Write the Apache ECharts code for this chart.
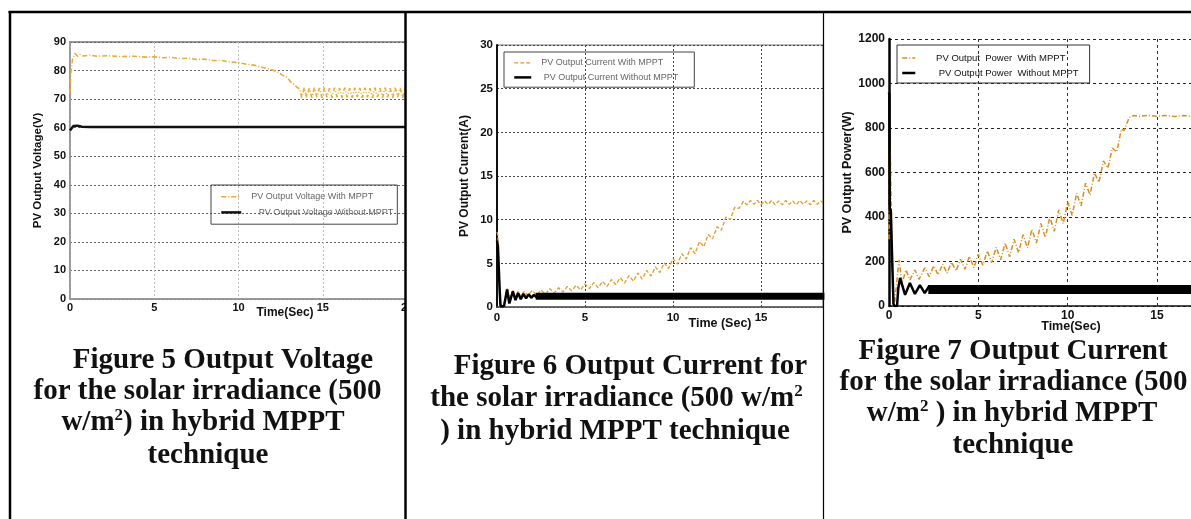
<!DOCTYPE html>
<html><head><meta charset="utf-8">
<script src="https://cdn.jsdelivr.net/npm/echarts@6/dist/echarts.min.js"></script>
<style>html,body{margin:0;padding:0;background:#fff}#c{width:1191px;height:519px}</style>
</head><body><div id="c"></div>
<script>
// ---------- data (time in s, value) ----------
const voltWith = [[0,72],[0.05,79],[0.15,84],[0.3,86],[0.45,85],[0.6,85.6],[0.8,85.1],[1.2,85.4],[1.6,85],[2.2,85.2],[3,84.9],[3.8,85],[4.5,84.7],[5,84.8],[5.5,84.5],[6,84.6],[6.5,84.2],[7,84.3],[7.5,83.9],[8,84],[8.5,83.5],[9,83.5],[9.5,83],[10,82.8],[10.5,82.2],[11,81.8],[11.5,81],[12,80.2],[12.3,79.6],[12.6,78.4],[12.9,77.5],[13.1,76],[13.3,75.2],[13.5,74],[13.65,73.5],[13.75,70.5],
 [13.9,74],[14.05,70.6],[14.2,73.8],[14.35,70.5],[14.5,74],[14.65,70.7],[14.8,73.9],[14.95,70.5],[15.1,74],[15.25,70.6],[15.4,73.8],[15.55,70.5],[15.7,74],[15.85,70.7],[16,73.9],[16.15,70.5],[16.3,74],[16.45,70.6],[16.6,73.8],[16.75,70.5],[16.9,74],[17.05,70.7],[17.2,73.9],[17.35,70.5],[17.5,74],[17.65,70.6],[17.8,73.8],[17.95,70.5],[18.1,74],[18.25,70.7],[18.4,73.9],[18.55,70.5],[18.7,74],[18.85,70.6],[19,73.8],[19.15,70.5],[19.3,74],[19.45,70.7],[19.6,73.9],[19.75,70.5],[19.9,74],[20,71]];
const voltWithout = [[0,59],[0.1,59.6],[0.2,60.6],[0.3,61],[0.45,60.7],[0.7,60.3],[1.2,60.2],[5,60.2],[10,60.2],[15,60.2],[20,60.2]];

const currentWith = [[0,8.6],[0.05,8.2],[0.12,4],[0.2,0.3],[0.35,0.1],[0.5,1.3],[0.6,2.2],[0.75,0.9],[0.9,1.9],[1.05,1.1],[1.2,1.8],[1.35,1.2],[1.55,1.8],[1.75,1.3],[2.0,1.9],
 [2.25,1.35],[2.5,1.95],[2.75,1.45],[3.0,2.1],[3.25,1.6],[3.5,2.2],[3.75,1.7],[4.0,2.35],[4.25,1.85],[4.5,2.5],[4.75,1.95],[5.0,2.65],[5.25,2.1],[5.5,2.8],[5.75,2.2],[6.0,2.95],[6.25,2.35],[6.5,3.15],[6.75,2.55],[7.0,3.35],[7.25,2.75],[7.5,3.6],[7.75,2.95],[8.0,3.9],[8.25,3.2],[8.5,4.2],[8.75,3.55],[9.0,4.6],[9.25,3.95],[9.5,5.05],[9.75,4.4],[10.0,5.55],[10.25,4.9],[10.5,6.1],[10.75,5.5],[11.0,6.8],[11.25,6.1],[11.5,7.5],[11.75,6.9],[12.0,8.3],[12.25,7.8],[12.5,9.2],[12.75,8.8],[13.0,10.3],[13.25,10.0],[13.5,11.4],[13.75,11.3],[14.0,12.1],
 [14.2,11.7],[14.4,12.2],[14.6,11.75],[14.8,12.2],[15.0,11.7],[15.2,12.15],[15.4,11.75],[15.6,12.2],[15.8,11.7],[16.0,12.15],[16.2,11.7],[16.4,12.2],[16.6,11.75],[16.8,12.15],[17.0,11.7],[17.2,12.2],[17.4,11.75],[17.6,12.15],[17.8,11.7],[18.0,12.2],[18.2,11.75],[18.4,12.15],[18.6,11.7]];
const currentWithout = [[0,7.6],[0.05,7.0],[0.15,2],[0.2,0.1],[0.4,0.1],[0.5,1.2],[0.57,2.0],[0.7,0.4],[0.9,1.8],[1.05,0.8],[1.2,1.6],[1.35,0.9],[1.5,1.5],[1.65,1.0],[1.8,1.45],[1.95,1.05],[2.1,1.4],[2.25,1.1],[2.4,1.3]];
const currentWithoutBand = [[2.2,1.22],[18.6,1.22]];

const powerWith = [[0,300],[0.03,700],[0.08,680],[0.15,330],[0.25,40],[0.32,20],[0.45,120],[0.56,207],[0.73,103],[0.95,162],[1.17,117],[1.45,162],[1.68,120],
 [2.0,171],[2.25,132],[2.5,180],[2.75,140],[3.0,188],[3.25,148],[3.5,197],[3.75,158],[4.0,210],[4.25,165],[4.5,223],[4.75,172],[5.0,233],[5.25,183],[5.5,248],[5.75,195],[6.0,264],[6.25,208],[6.5,283],[6.75,221],[7.0,300],[7.25,240],[7.5,320],[7.75,261],[8.0,345],[8.25,283],[8.5,371],[8.75,308],[9.0,400],[9.25,336],[9.5,432],[9.75,370],[10.0,468],[10.25,407],[10.5,507],[10.75,450],[11.0,552],[11.25,499],[11.5,598],[11.75,556],[12.0,652],[12.25,620],[12.5,710],[12.75,692],[13.0,795],[13.15,788],[13.45,848],[13.7,856],
 [14,852],[14.5,857],[15,853],[15.5,856],[16,852],[16.5,856],[16.9,853]];
const powerWithout = [[0,960],[0.02,950],[0.04,440],[0.1,430],[0.18,200],[0.25,10],[0.3,0],[0.45,0],[0.52,80],[0.62,126],[0.9,50],[1.17,103],[1.45,54],[1.73,94],[2.0,58],[2.25,90],[2.5,62]];
const powerWithoutBand = [[2.2,74],[16.9,74]];

const seriesNames = {
  vWith: 'PV Output Voltage With MPPT', vWithout: 'PV Output Voltage Without MPPT',
  cWith: 'PV Output Current With MPPT', cWithout: 'PV Output Current Without MPPT',
  pWith: 'PV Output  Power  With MPPT', pWithout: 'PV Output Power  Without MPPT'
};
const yNames = ['PV Output Voltage(V)', 'PV Output Current(A)', 'PV Output Power(W)'];
const xNames = ['Time(Sec)', 'Time (Sec)', 'Time(Sec)'];
const caption5 = ['{b|Figure 5 Output Voltage}', '{b|for the solar irradiance (500}', '{b|w/m}{s|2}{b|) in hybrid MPPT}', '{b|technique}'];
const caption6 = ['{b|Figure 6 Output Current for}', '{b|the solar irradiance (500 w/m}{s|2}', '{b|) in hybrid MPPT technique}'];
const caption7 = ['{b|Figure 7 Output Current}', '{b|for the solar irradiance (500}', '{b|w/m}{s|2}{b| ) in hybrid MPPT}', '{b|technique}'];

// ---------- styling ----------
const SANS = '"Liberation Sans", Arial, sans-serif';
const SERIF = '"Liberation Serif", "Times New Roman", serif';
const chart = echarts.init(document.getElementById('c'), null, {renderer: 'canvas'});

function xAx(gi, max, lineColor, split, margin, fs) {
  return {gridIndex: gi, type: 'value', min: 0, max: max, interval: 5,
    axisLine: {lineStyle: {color: lineColor, width: 1.5}}, axisTick: {show: false},
    axisLabel: {color: '#111', fontWeight: 'bold', fontSize: fs, fontFamily: SANS, margin: margin, showMaxLabel: gi === 0,
      formatter: function (v) { return String(v); }},
    splitLine: {show: true, lineStyle: split}};
}
function yAx(gi, max, interval, lineColor, lw, split, name, gap, fs, nfs) {
  return {gridIndex: gi, type: 'value', min: 0, max: max, interval: interval,
    axisLine: {show: true, lineStyle: {color: lineColor, width: lw}}, axisTick: {show: false},
    axisLabel: {color: '#111', fontWeight: 'bold', fontSize: fs, fontFamily: SANS, margin: 4,
      formatter: function (v) { return String(v); }},
    splitLine: {show: true, lineStyle: split},
    name: name, nameLocation: 'middle', nameGap: gap,
    nameTextStyle: {fontWeight: 'bold', fontSize: nfs, fontFamily: SANS, color: '#111'}};
}
function line(name, xi, data, color, width, type, z) {
  return {name: name, type: 'line', xAxisIndex: xi, yAxisIndex: xi, data: data, symbol: 'none',
    showSymbol: false, animation: false, z: z || 2, itemStyle: {color: color},
    lineStyle: {color: color, width: width, type: type || 'solid'}};
}
function legendPad(n) { return (n.indexOf('Without') >= 0 ? '     ' : '  ') + n; }
const hiddenSymbol = {opacity: 0, borderWidth: 0};

const graphics = [];
function captionBlock(lines, xs, ys) {
  lines.forEach(function (t, i) {
    graphics.push({type: 'text', z: 120, style: {text: t, x: xs[i], y: ys[i], align: 'center', verticalAlign: 'middle',
      rich: {
        b: {fontSize: 29, fontWeight: 'bold', fontFamily: SERIF, fill: '#111', lineHeight: 32},
        s: {fontSize: 17, fontWeight: 'bold', fontFamily: SERIF, fill: '#111', verticalAlign: 'top'}
      }}});
  });
}
captionBlock(caption5, [223, 207.5, 203, 208], [361, 392, 423, 456]);
captionBlock(caption6, [630.5, 616.5, 615], [367, 399, 432]);
captionBlock(caption7, [1013, 1013.5, 1012, 1013], [352, 383, 414, 446]);
[[xNames[0], 285, 313, 12], [xNames[1], 720, 324, 12.5], [xNames[2], 1071, 327, 12.5]].forEach(function (a) {
  graphics.push({type: 'text', z: 90, style: {text: a[0], x: a[1], y: a[2], align: 'center', verticalAlign: 'middle',
    fontSize: a[3], fontWeight: 'bold', fontFamily: SANS, fill: '#111'}});
});
// clip chart 1 at its cell edge, then table rules
graphics.push({type: 'rect', z: 100, shape: {x: 406, y: 20, width: 50, height: 310}, style: {fill: '#fff'}});
graphics.push({type: 'line', z: 110, shape: {x1: 8.5, y1: 12, x2: 1191, y2: 12}, style: {stroke: '#000', lineWidth: 2.5}});
graphics.push({type: 'line', z: 110, shape: {x1: 10, y1: 11, x2: 10, y2: 519}, style: {stroke: '#000', lineWidth: 2.5}});
graphics.push({type: 'line', z: 110, shape: {x1: 405.5, y1: 11, x2: 405.5, y2: 519}, style: {stroke: '#000', lineWidth: 2.5}});
graphics.push({type: 'line', z: 110, shape: {x1: 823.5, y1: 11, x2: 823.5, y2: 519}, style: {stroke: '#000', lineWidth: 1.2}});

const option = {
  animation: false,
  backgroundColor: '#fff',
  grid: [
    {left: 70, top: 42, width: 337, height: 257, show: true, borderColor: '#9a9a9a', borderWidth: 2},
    {left: 497, top: 45, width: 326, height: 262, show: true, borderColor: '#777', borderWidth: 1},
    {left: 889, top: 39, width: 302, height: 267, show: false}
  ],
  xAxis: [
    xAx(0, 20, '#9a9a9a', {color: '#bdbdbd', type: [2, 2], width: 1}, 3, 11),
    xAx(1, 18.52, '#555', {color: '#444', type: [2, 2], width: 1}, 5, 11.5),
    xAx(2, 16.9, '#111', {color: '#333', type: [3, 3], width: 1}, 4, 12)
  ],
  yAxis: [
    yAx(0, 90, 10, '#9a9a9a', 1.5, {color: '#666', type: [2, 2], width: 1}, yNames[0], 26, 11, 11.5),
    yAx(1, 30, 5, '#111', 2, {color: '#444', type: [2, 2], width: 1}, yNames[1], 26, 11.5, 12),
    yAx(2, 1200, 200, '#000', 2.5, {color: '#222', type: [3, 3], width: 1}, yNames[2], 35, 12, 12.5)
  ],
  legend: [
    {data: [seriesNames.vWith, seriesNames.vWithout], orient: 'vertical', left: 211, top: 185,
     padding: [7, 4, 7, 9], itemGap: 6, itemWidth: 20, itemHeight: 12, borderColor: '#444', borderWidth: 1,
     itemStyle: hiddenSymbol, lineStyle: {width: 'inherit'},
     selectedMode: false, formatter: legendPad, textStyle: {fontSize: 9, color: '#666', fontFamily: SANS}},
    {data: [seriesNames.cWith, seriesNames.cWithout], orient: 'vertical', left: 504, top: 52,
     padding: [6, 16, 5, 9], itemGap: 5, itemWidth: 17, itemHeight: 12, borderColor: '#444', borderWidth: 1,
     itemStyle: hiddenSymbol, lineStyle: {width: 'inherit'},
     selectedMode: false, formatter: function (n) { return (n.indexOf('Without') >= 0 ? '   ' : '  ') + n; },
     textStyle: {fontSize: 9, color: '#666', fontFamily: SANS}},
    {data: [seriesNames.pWith, seriesNames.pWithout], orient: 'vertical', left: 897, top: 45,
     padding: [8, 11, 5, 4], itemGap: 5, itemWidth: 13, itemHeight: 12, borderColor: '#333', borderWidth: 1,
     itemStyle: hiddenSymbol, lineStyle: {width: 'inherit'},
     selectedMode: false, formatter: function (n) { return (n.indexOf('Without') >= 0 ? '       ' : '      ') + n; },
     textStyle: {fontSize: 9.5, color: '#111', fontFamily: SANS}}
  ],
  series: [
    line(seriesNames.vWith, 0, voltWith, '#e6ad3a', 1.6, [5, 2, 1, 2], 3),
    line(seriesNames.vWithout, 0, voltWithout, '#111', 2.5, 'solid', 4),
    line(seriesNames.cWith, 1, currentWith, '#e39b2d', 1.3, [4, 2], 3),
    line(seriesNames.cWithout, 1, currentWithout, '#000', 2.5, 'solid', 4),
    line(seriesNames.cWithout, 1, currentWithoutBand, '#000', 7, 'solid', 4),
    line(seriesNames.pWith, 2, powerWith, '#d68f22', 1.5, [5, 2, 1, 2], 3),
    line(seriesNames.pWithout, 2, powerWithout, '#000', 2.5, 'solid', 4),
    line(seriesNames.pWithout, 2, powerWithoutBand, '#000', 9, 'solid', 4)
  ],
  graphic: {elements: graphics}
};
chart.setOption(option);
</script></body></html>
